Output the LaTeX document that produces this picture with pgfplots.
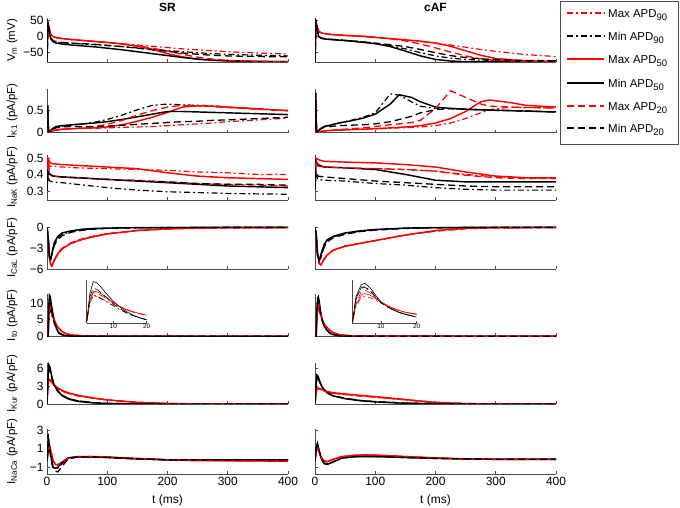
\documentclass[border=0pt]{standalone}
\usepackage{fontspec}
\setmainfont{Liberation Sans}
\usepackage{pgfplots}
\usepackage{pgfplotstable}
\pgfplotsset{compat=1.18}

% columns: t, a=Max APD90, b=Min APD90, c=Max APD50, d=Min APD50, e=Max APD20, f=Min APD20
\pgfplotstableread{
t a b c d e f
0 -80 -80 -80 -80 -80 -80
1.5 40 42 40 44 40 42
3 30 28 30 25 30 28
6 5 -5 5 -8 5 -5
10 -2 -15 -2 -18 -2 -14
15 -5 -19 -5 -22 -5 -18
25 -8 -21 -8 -25 -8 -20
40 -11 -23 -11 -28 -11 -22
60 -14 -25 -14 -31 -14 -24
80 -17 -27 -17 -34 -17 -26
100 -20 -30 -20 -38 -20 -29
125 -24 -33 -25 -43 -25 -33
150 -28 -37 -32 -49 -31 -38
175 -32 -41 -42 -55 -38 -43
200 -36 -45 -55 -61 -47 -48
225 -40 -49 -65 -67 -57 -53
250 -43 -52 -72 -72 -66 -57
275 -46 -55 -76 -75 -72 -60
300 -49 -57 -78 -77 -76 -62
350 -53 -60 -80 -79 -79 -64
400 -56 -62 -80 -80 -80 -65
}\vmSR
\pgfplotstableread{
t a b c d e f
0 -80 -80 -80 -80 -80 -80
1.5 42 44 42 45 42 44
3 32 30 32 30 32 30
6 15 0 15 -2 15 0
10 10 -6 10 -7 10 -6
15 8 -8 8 -9 8 -8
25 5 -10 5 -11 5 -10
40 3 -12 3 -13 3 -12
60 1 -15 1 -16 1 -15
80 -2 -19 -1 -20 -1 -18
100 -5 -23 -4 -24 -4 -22
125 -9 -30 -8 -33 -9 -27
150 -13 -40 -12 -47 -15 -33
175 -17 -52 -16 -62 -25 -42
200 -22 -62 -22 -73 -37 -52
225 -28 -69 -32 -78 -50 -61
250 -35 -73 -46 -80 -62 -67
275 -42 -75 -60 -80 -71 -71
300 -48 -76 -70 -80 -76 -74
350 -58 -77 -78 -80 -79 -76
400 -64 -77 -80 -80 -80 -77
}\vmAF
\pgfplotstableread{
t a b c d e f
0 0.1 0.1 0.1 0.1 0.1 0.1
1 0.62 0.62 0.62 0.62 0.62 0.62
2.5 0.02 0.02 0.02 0.02 0.02 0.02
6 0.02 0.04 0.02 0.05 0.02 0.04
10 0.04 0.08 0.04 0.10 0.04 0.08
15 0.06 0.12 0.06 0.14 0.06 0.11
25 0.08 0.15 0.08 0.16 0.08 0.13
40 0.09 0.17 0.09 0.18 0.09 0.14
60 0.10 0.20 0.10 0.20 0.11 0.14
80 0.10 0.24 0.11 0.22 0.14 0.14
100 0.11 0.30 0.13 0.25 0.19 0.15
125 0.12 0.40 0.18 0.30 0.28 0.17
150 0.13 0.52 0.26 0.36 0.40 0.19
175 0.14 0.62 0.35 0.42 0.50 0.21
200 0.16 0.65 0.46 0.48 0.58 0.23
225 0.18 0.63 0.58 0.48 0.62 0.25
250 0.20 0.62 0.61 0.47 0.61 0.26
275 0.22 0.61 0.60 0.46 0.59 0.28
300 0.25 0.58 0.58 0.45 0.57 0.29
350 0.29 0.54 0.54 0.43 0.53 0.32
400 0.33 0.50 0.50 0.41 0.50 0.35
}\ikSR
\pgfplotstableread{
t a b c d e f
0 0.1 0.1 0.1 0.1 0.1 0.1
1 0.9 0.9 0.9 0.9 0.9 0.9
2.5 0.02 0.02 0.02 0.02 0.02 0.02
6 0.02 0.05 0.02 0.05 0.02 0.05
10 0.03 0.10 0.03 0.10 0.03 0.09
15 0.04 0.14 0.04 0.14 0.04 0.12
25 0.05 0.17 0.05 0.17 0.05 0.14
40 0.06 0.22 0.06 0.22 0.07 0.16
60 0.07 0.28 0.07 0.27 0.09 0.17
80 0.08 0.35 0.08 0.33 0.11 0.18
100 0.09 0.45 0.09 0.42 0.14 0.20
125 0.10 0.88 0.11 0.65 0.18 0.25
140 0.11 0.85 0.12 0.86 0.20 0.30
160 0.12 0.70 0.14 0.80 0.23 0.37
175 0.13 0.60 0.16 0.70 0.28 0.45
200 0.16 0.55 0.22 0.58 0.55 0.52
225 0.22 0.54 0.32 0.55 0.95 0.55
250 0.32 0.53 0.48 0.53 0.80 0.53
275 0.45 0.52 0.70 0.52 0.65 0.52
290 0.52 0.51 0.74 0.51 0.60 0.51
325 0.58 0.50 0.68 0.50 0.58 0.50
350 0.57 0.49 0.62 0.49 0.57 0.49
400 0.56 0.47 0.58 0.47 0.56 0.47
}\ikAF
\pgfplotstableread{
t a b c d e f
0 0.30 0.30 0.30 0.30 0.30 0.30
1.5 0.47 0.38 0.50 0.42 0.48 0.42
5 0.45 0.36 0.47 0.40 0.40 0.40
10 0.45 0.355 0.465 0.39 0.39 0.39
25 0.445 0.35 0.46 0.385 0.385 0.385
50 0.44 0.34 0.455 0.38 0.38 0.38
100 0.435 0.32 0.445 0.37 0.37 0.37
150 0.43 0.305 0.435 0.36 0.365 0.36
200 0.425 0.295 0.41 0.35 0.355 0.355
250 0.415 0.29 0.39 0.34 0.345 0.345
300 0.41 0.285 0.38 0.33 0.34 0.34
350 0.40 0.282 0.375 0.325 0.335 0.34
400 0.40 0.28 0.37 0.32 0.33 0.335
}\nkSR
\pgfplotstableread{
t a b c d e f
0 0.31 0.31 0.31 0.31 0.31 0.31
1.5 0.47 0.40 0.50 0.48 0.47 0.42
5 0.45 0.37 0.49 0.46 0.45 0.39
15 0.445 0.365 0.48 0.445 0.445 0.385
50 0.44 0.36 0.475 0.44 0.44 0.375
100 0.435 0.345 0.47 0.43 0.435 0.36
150 0.43 0.335 0.46 0.40 0.43 0.35
200 0.42 0.32 0.445 0.365 0.42 0.34
250 0.40 0.31 0.415 0.355 0.395 0.33
300 0.385 0.305 0.39 0.355 0.38 0.325
350 0.38 0.305 0.38 0.355 0.375 0.325
400 0.375 0.305 0.38 0.355 0.375 0.325
}\nkAF
\pgfplotstableread{
t a b c d e f
0 0 0 0 0 0 0
2 -1.5 -1.5 -1.5 -1.5 -1.5 -1.5
4 -4.0 -4.2 -4.0 -4.4 -4.0 -4.2
6 -5.3 -4.6 -5.3 -4.6 -5.3 -4.6
8 -5.6 -4.0 -5.6 -3.8 -5.5 -4.0
12 -4.8 -2.4 -4.8 -2.2 -4.7 -2.6
18 -3.8 -1.5 -3.8 -1.3 -3.7 -1.7
25 -3.1 -1.0 -3.1 -0.8 -3.0 -1.2
40 -2.3 -0.6 -2.3 -0.5 -2.2 -0.7
60 -1.7 -0.35 -1.7 -0.25 -1.6 -0.4
80 -1.3 -0.2 -1.3 -0.15 -1.2 -0.25
100 -0.95 -0.12 -0.95 -0.1 -0.9 -0.15
150 -0.45 -0.05 -0.45 -0.04 -0.45 -0.06
200 -0.2 -0.02 -0.2 -0.02 -0.25 -0.03
250 -0.1 -0.01 -0.08 -0.01 -0.12 -0.01
300 -0.05 0 -0.04 0 -0.06 0
400 -0.02 0 -0.02 0 -0.02 0
}\caSR
\pgfplotstableread{
t a b c d e f
0 0 0 0 0 0 0
2 -1.0 -1.0 -1.0 -1.0 -1.0 -1.0
4 -3.5 -3.8 -3.5 -4.0 -3.5 -3.8
7 -5.2 -4.8 -5.2 -4.8 -5.2 -4.8
10 -5.4 -4.2 -5.4 -3.8 -5.4 -4.3
15 -4.6 -2.8 -4.6 -2.5 -4.6 -2.9
20 -4.0 -2.0 -4.0 -1.8 -4.0 -2.1
30 -3.3 -1.4 -3.3 -1.3 -3.3 -1.5
50 -2.7 -0.9 -2.7 -0.8 -2.7 -1.0
75 -2.3 -0.55 -2.3 -0.5 -2.3 -0.6
100 -1.9 -0.35 -1.9 -0.3 -1.9 -0.4
150 -1.1 -0.12 -1.1 -0.1 -1.1 -0.15
200 -0.5 -0.05 -0.45 -0.03 -0.55 -0.05
250 -0.15 -0.02 -0.12 -0.01 -0.2 -0.02
300 -0.05 0 -0.03 0 -0.06 0
400 -0.02 0 -0.01 0 -0.02 0
}\caAF
\pgfplotstableread{
t a b c d e f
0 0 0 0 0 0 0
2 0 0 0 0 0 0
3 6 7 7 9 6.5 8
4 8.2 8.5 9.6 12.5 9.2 10.5
5 8.0 8.2 9.5 12.2 9.0 10.2
6 7.5 7.6 9.0 11.2 8.5 9.4
8 6.6 6.4 7.8 8.8 7.4 7.6
10 5.6 5.2 6.2 6.6 6.0 5.8
12 4.7 4.0 5.0 4.8 4.9 4.3
14 3.9 3.0 4.1 3.4 4.0 3.1
16 3.3 2.2 3.4 2.3 3.3 2.2
18 2.8 1.6 2.8 1.5 2.8 1.6
20 2.3 1.0 2.4 0.9 2.3 1.0
25 1.4 0.5 1.4 0.45 1.4 0.5
30 0.9 0.25 0.9 0.25 0.9 0.25
40 0.4 0.1 0.4 0.1 0.4 0.1
60 0.15 0.03 0.15 0.03 0.15 0.03
100 0.04 0.01 0.04 0.01 0.04 0.01
400 0 0 0 0 0 0
}\toSR
\pgfplotstableread{
t a b c d e f
0 0 0 0 0 0 0
2 0 0 0 0 0 0
3 5 7 5.5 8 6 7.5
4.5 7.8 10.8 8.6 11.6 9.6 10.5
5.5 8.0 11.0 8.9 12.0 10.0 10.8
7 7.6 9.8 8.4 10.6 9.0 9.6
8.5 6.9 8.0 7.4 8.4 7.6 7.8
10 6.0 6.2 6.3 6.4 6.3 6.1
12 5.0 4.8 5.2 4.9 5.1 4.7
14 4.1 3.7 4.2 3.7 4.2 3.6
16 3.4 2.9 3.5 2.9 3.4 2.8
18 3.0 2.3 3.0 2.3 3.0 2.3
20 2.6 1.8 2.7 1.8 2.6 1.8
25 1.7 0.9 1.8 0.9 1.7 0.9
30 1.1 0.5 1.1 0.5 1.1 0.5
40 0.5 0.2 0.5 0.2 0.5 0.2
60 0.15 0.05 0.15 0.05 0.15 0.05
100 0.04 0.01 0.04 0.01 0.04 0.01
400 0 0 0 0 0 0
}\toAF
\pgfplotstableread{
t a b c d e f
0 0 0 0 0 0 0
1.5 3.0 4.0 3.0 4.5 3.0 4.0
3 4.1 5.8 4.2 6.6 4.1 6.0
5 4.0 5.6 4.1 6.2 4.0 5.7
8 3.6 4.4 3.7 4.6 3.6 4.4
12 3.1 3.2 3.2 3.2 3.1 3.2
18 2.6 2.2 2.7 2.1 2.6 2.2
25 2.2 1.5 2.3 1.4 2.2 1.5
35 1.8 0.95 1.9 0.85 1.8 0.95
50 1.4 0.55 1.5 0.45 1.4 0.55
75 1.0 0.25 1.05 0.2 1.0 0.25
100 0.65 0.1 0.7 0.08 0.7 0.1
150 0.25 0.03 0.25 0.02 0.3 0.03
200 0.08 0.01 0.08 0 0.1 0.01
250 0.02 0 0.02 0 0.03 0
400 0 0 0 0 0 0
}\kuSR
\pgfplotstableread{
t a b c d e f
0 0 0 0 0 0 0
1.5 1.5 2.5 1.5 3.0 1.5 2.5
3 2.5 4.2 2.6 4.9 2.5 4.3
5 2.6 4.3 2.7 4.7 2.6 4.4
8 2.5 3.6 2.6 3.8 2.5 3.6
12 2.3 2.8 2.4 2.8 2.3 2.8
20 2.0 1.9 2.1 1.9 2.0 1.9
30 1.8 1.4 1.9 1.35 1.8 1.4
50 1.6 0.95 1.7 0.9 1.6 0.95
75 1.35 0.6 1.45 0.55 1.35 0.6
100 1.15 0.4 1.25 0.35 1.15 0.4
150 0.7 0.15 0.75 0.12 0.7 0.15
200 0.25 0.05 0.25 0.04 0.3 0.05
250 0.07 0.02 0.06 0.01 0.08 0.02
300 0.02 0 0.02 0 0.02 0
400 0 0 0 0 0 0
}\kuAF
\pgfplotstableread{
t a b c d e f
0 -0.3 -0.3 -0.3 -0.3 -0.3 -0.3
2 0.8 2.5 0.8 0.9 0.8 2.6
4 1.3 1.2 1.3 1.3 1.3 1.1
7 0.6 -0.2 0.6 0.2 0.6 -0.3
10 -0.3 -1.0 -0.3 -1.0 -0.3 -1.1
14 -0.7 -1.2 -0.7 -1.1 -0.7 -1.4
18 -0.75 -1.1 -0.75 -1.0 -0.7 -1.5
25 -0.45 -0.6 -0.45 -0.5 -0.5 -0.9
35 0.0 -0.05 0.0 0.0 -0.05 -0.1
50 0.15 0.1 0.15 0.1 0.1 0.1
75 0.15 0.1 0.15 0.1 0.15 0.1
100 0.1 0.05 0.1 0.05 0.1 0.05
150 -0.1 -0.1 -0.05 -0.1 -0.1 -0.1
200 -0.2 -0.2 -0.2 -0.2 -0.2 -0.2
250 -0.25 -0.2 -0.3 -0.2 -0.25 -0.2
300 -0.3 -0.2 -0.3 -0.2 -0.3 -0.2
400 -0.3 -0.2 -0.35 -0.2 -0.3 -0.2
}\ncSR
\pgfplotstableread{
t a b c d e f
0 -0.3 -0.3 -0.3 -0.3 -0.3 -0.3
2 0.7 1.0 0.7 1.2 0.7 1.0
4 1.1 1.4 1.1 1.6 1.1 1.4
7 0.7 0.7 0.7 0.8 0.7 0.7
10 0.1 0.0 0.1 0.0 0.1 0.0
15 -0.3 -0.55 -0.3 -0.6 -0.3 -0.55
20 -0.4 -0.65 -0.4 -0.7 -0.4 -0.65
30 -0.15 -0.4 -0.15 -0.45 -0.15 -0.4
45 0.15 0.0 0.15 0.0 0.15 0.0
70 0.3 0.15 0.3 0.15 0.3 0.15
100 0.3 0.15 0.3 0.15 0.3 0.15
150 0.15 0.05 0.15 0.05 0.15 0.05
200 0.0 -0.05 0.0 -0.05 0.0 -0.05
250 -0.1 -0.1 -0.1 -0.1 -0.15 -0.1
300 -0.15 -0.15 -0.15 -0.15 -0.15 -0.15
400 -0.15 -0.15 -0.15 -0.15 -0.15 -0.15
}\ncAF

\newcommand\lsub[1]{\raisebox{-3.5bp}{\fontsize{9.5}{10}\selectfont #1}}
\tikzset{
  mx90/.style={color=red, draw=red, line width=1.2pt, dash pattern=on 6bp off 3bp on 1.8bp off 3bp},
  mn90/.style={color=black, draw=black, line width=1.2pt, dash pattern=on 6bp off 3bp on 1.8bp off 3bp},
  mx50/.style={color=red, draw=red, line width=1.45pt},
  mn50/.style={color=black, draw=black, line width=1.45pt},
  mx20/.style={color=red, draw=red, line width=1.3pt, dash pattern=on 7bp off 4bp},
  mn20/.style={color=black, draw=black, line width=1.3pt, dash pattern=on 7bp off 4bp},
}
\pgfplotsset{
  every axis title shift=0pt,
  panel/.style={scale only axis, width=241bp, xmin=0, xmax=400,
    axis lines=left, axis line style={-, black!70, line width=0.6pt},
    tick align=inside, major tick length=3bp,
    tick style={black!70, line width=0.6pt},
    xtick={0,100,200,300,400}, xticklabels={},
    tick label style={font=\fontsize{12}{14}\selectfont},
    /pgf/number format/assume math mode=true,
    every axis y label/.style={at={(axis description cs:-0.145,0.5)}, rotate=90, anchor=center, font=\fontsize{11.5}{13}\selectfont},
    title style={at={(0.5,1)}, anchor=south, yshift=3.5bp, font=\bfseries\fontsize{12}{14}\selectfont}},
  pL/.style={panel, at={(47bp,#1)}, anchor=south west},
  pR/.style={panel, at={(315bp,#1)}, anchor=south west},
  r1/.style={ymin=-81, ymax=53, height=43bp, ytick={-50,0,50}, yticklabels={−50,0,50}},
  r2/.style={ymin=0, ymax=0.99, height=43.7bp, ytick={0,0.5}, yticklabels={0,0.5}},
  r3/.style={ymin=0.245, ymax=0.518, height=45bp, ytick={0.3,0.4,0.5}, yticklabels={0.3,0.4,0.5}},
  r4/.style={ymin=-6, ymax=0.1, height=42.3bp, ytick={-6,-3,0}, yticklabels={−6,−3,0}},
  r5/.style={ymin=0, ymax=12.8, height=42.3bp, ytick={0,5,10}, yticklabels={0,5,10}},
  r6/.style={ymin=0, ymax=6.9, height=41bp, ytick={0,3,6}, yticklabels={0,3,6}},
  r7/.style={ymin=-1.72, ymax=3.1, height=45bp, ytick={-1,1,3}, yticklabels={−1,1,3}},
  inset/.style={scale only axis, height=43bp, xmin=2, xmax=20, ymin=0, ymax=13,
    axis lines=left, axis line style={-, black!70, line width=0.5pt},
    xtick={10,20}, ytick=\empty, tick align=inside, major tick length=2bp,
    tick style={black!70, line width=0.5pt},
    tick label style={font=\fontsize{6.5}{7}\selectfont, inner sep=1bp},
    /pgf/number format/assume math mode=true},
}
\newcommand\six[2][]{%
  \addplot[mx90,#1] table[x=t,y=a]{#2};
  \addplot[mn90,#1] table[x=t,y=b]{#2};
  \addplot[mx50,#1] table[x=t,y=c]{#2};
  \addplot[mn50,#1] table[x=t,y=d]{#2};
  \addplot[mx20,#1] table[x=t,y=e]{#2};
  \addplot[mn20,#1] table[x=t,y=f]{#2};}

\begin{document}
\begin{tikzpicture}
\path[use as bounding box] (0,0) rectangle (680bp,508bp);
% row 1
\begin{axis}[pL=446bp, r1, ylabel={V\textsubscript{m} (mV)}, title={SR}]
\six{\vmSR}
\end{axis}
\begin{axis}[pR=446bp, r1, yticklabels={}, title={cAF}]
\six{\vmAF}
\end{axis}
% row 2
\begin{axis}[pL=375.3bp, r2, ylabel={I\textsubscript{K1} (pA/pF)}]
\six{\ikSR}
\end{axis}
\begin{axis}[pR=375.3bp, r2, yticklabels={}]
\six{\ikAF}
\end{axis}
% row 3
\begin{axis}[pL=308bp, r3, ylabel={I\textsubscript{NaK} (pA/pF)}]
\six{\nkSR}
\end{axis}
\begin{axis}[pR=308bp, r3, yticklabels={}]
\six{\nkAF}
\end{axis}
% row 4
\begin{axis}[pL=239bp, r4, ylabel={I\textsubscript{CaL} (pA/pF)}]
\six{\caSR}
\end{axis}
\begin{axis}[pR=239bp, r4, yticklabels={}]
\six{\caAF}
\end{axis}
% row 5
\begin{axis}[pL=171.7bp, r5, ylabel={I\textsubscript{to} (pA/pF)}]
\six{\toSR}
\end{axis}
\begin{axis}[pR=171.7bp, r5, yticklabels={}]
\six{\toAF}
\end{axis}
% insets
\begin{axis}[inset, at={(86.6bp,185bp)}, anchor=south west, width=60.1bp]
\six[line width=0.6pt]{\toSR}
\end{axis}
\begin{axis}[inset, at={(352.4bp,185bp)}, anchor=south west, width=64.3bp]
\six[line width=0.6pt]{\toAF}
\end{axis}
% row 6
\begin{axis}[pL=104bp, r6, ylabel={I\textsubscript{Kur} (pA/pF)}]
\six{\kuSR}
\end{axis}
\begin{axis}[pR=104bp, r6, yticklabels={}]
\six{\kuAF}
\end{axis}
% row 7
\begin{axis}[pL=34bp, r7, ylabel={I\textsubscript{NaCa} (pA/pF)},
  xticklabels={0,100,200,300,400}, xlabel={t (ms)},
  xlabel style={at={(axis description cs:0.5,0)}, anchor=center, yshift=-26bp, font=\fontsize{12}{14}\selectfont}]
\six{\ncSR}
\end{axis}
\begin{axis}[pR=34bp, r7, yticklabels={},
  xticklabels={0,100,200,300,400}, xlabel={t (ms)},
  xlabel style={at={(axis description cs:0.5,0)}, anchor=center, yshift=-26bp, font=\fontsize{12}{14}\selectfont}]
\six{\ncAF}
\end{axis}
% legend box as its own small axis
\begin{axis}[at={(560bp,364bp)}, anchor=south west, scale only axis, width=118bp, height=143bp,
  xmin=0, xmax=118, ymin=0, ymax=143, axis lines=box, xtick=\empty, ytick=\empty,
  axis line style={black!70, line width=0.6pt}, clip=false]
\addplot[mx90, line width=1.6pt] coordinates {(7,131) (44,131)};
\addplot[mn90, line width=1.6pt] coordinates {(7,108) (44,108)};
\addplot[mx50, line width=1.6pt] coordinates {(7,85) (44,85)};
\addplot[mn50, line width=1.6pt] coordinates {(7,61) (44,61)};
\addplot[mx20, line width=1.6pt] coordinates {(7,38) (44,38)};
\addplot[mn20, line width=1.6pt] coordinates {(7,16) (44,16)};
\begin{scope}[every node/.style={anchor=base west, inner sep=0pt, font=\fontsize{11.5}{13}\selectfont}]
\node at (axis cs:48,126.9) {Max APD\lsub{90}};
\node at (axis cs:48,103.9) {Min APD\lsub{90}};
\node at (axis cs:48,80.9) {Max APD\lsub{50}};
\node at (axis cs:48,56.9) {Min APD\lsub{50}};
\node at (axis cs:48,33.9) {Max APD\lsub{20}};
\node at (axis cs:48,11.9) {Min APD\lsub{20}};
\end{scope}
\end{axis}
\end{tikzpicture}
\end{document}
